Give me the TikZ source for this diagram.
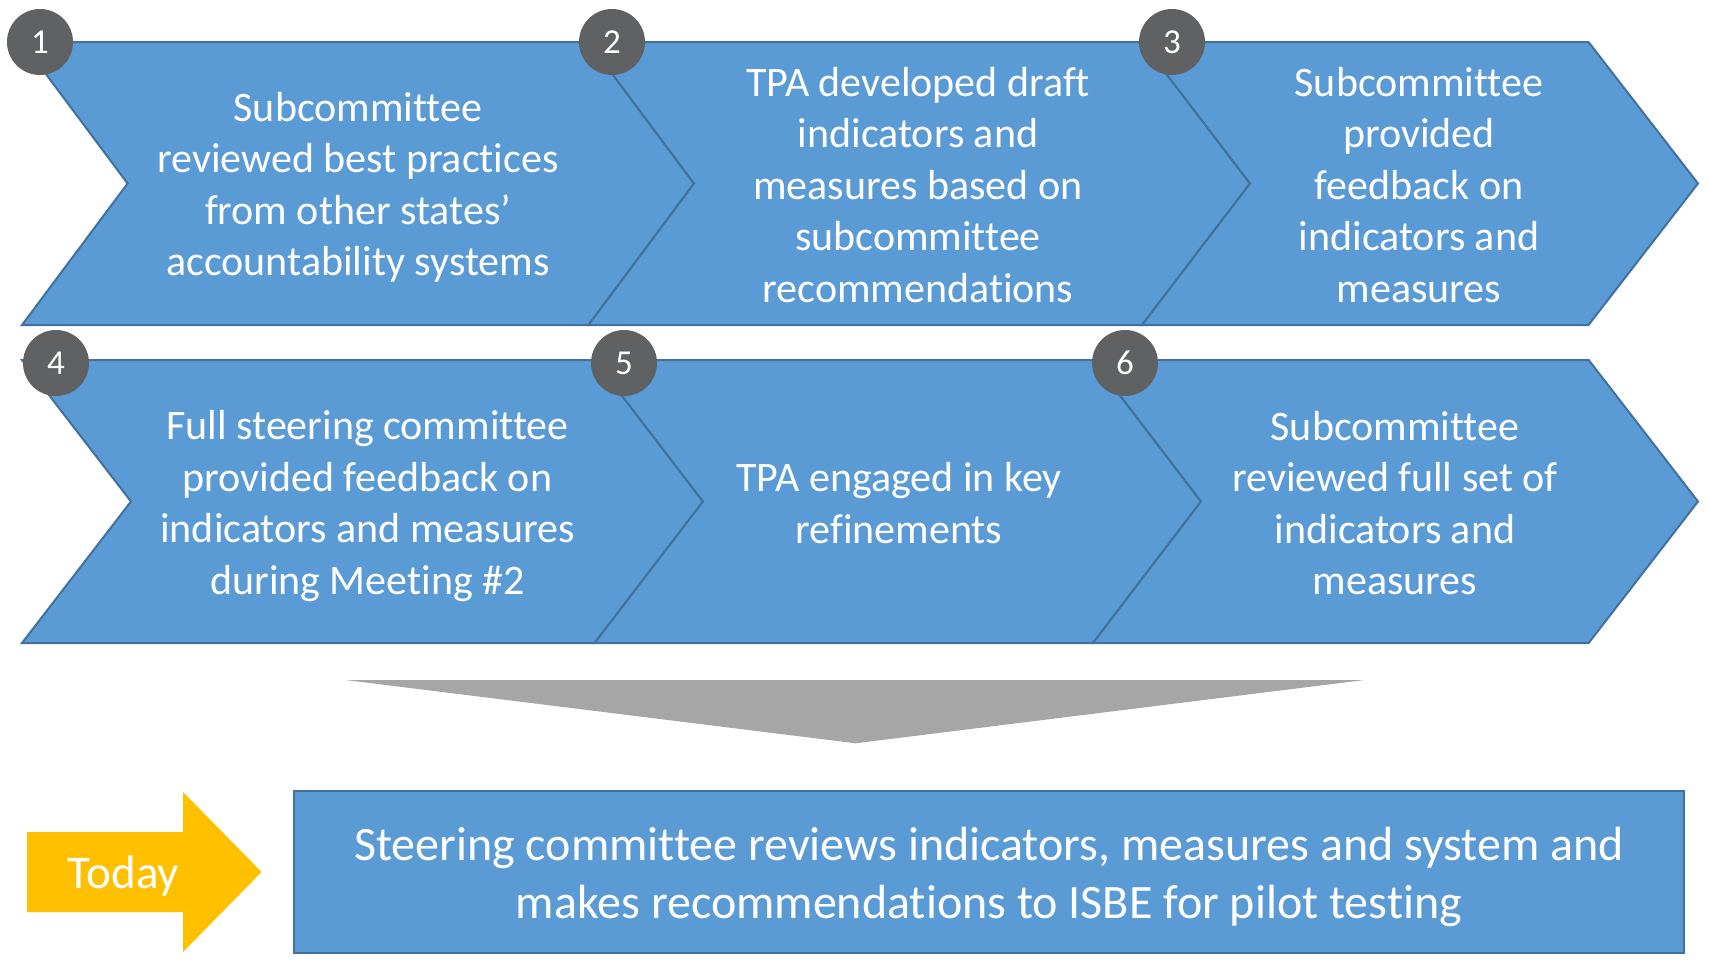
\documentclass[tikz,border=0pt]{standalone}
\usepackage{fontspec}
\setmainfont{Carlito}[Ligatures=NoCommon]
\definecolor{blu}{HTML}{5B9BD5}
\definecolor{bluedge}{HTML}{41719C}
\definecolor{dgray}{HTML}{606163}
\definecolor{trigray}{HTML}{A6A6A6}
\definecolor{yel}{HTML}{FFC000}
\tikzset{
  chev/.style={fill=blu, draw=bluedge, line width=2pt, line join=miter},
  steptext/.style={text=white, align=center, font=\fontsize{42}{51.5}\selectfont, inner sep=0pt},
  numcirc/.style={circle, fill=dgray, minimum size=66pt, inner sep=0pt, text=white, font=\fontsize{35}{40}\selectfont},
}
\newcommand{\chevshape}[6]{% xl, xn, xr, xp, top, bot
  \draw[chev] (#1,#5) -- (#3,#5) -- (#4,{(#5+#6)/2}) -- (#3,#6) -- (#1,#6) -- (#2,{(#5+#6)/2}) -- cycle;}
\begin{document}
\begin{tikzpicture}[x=1pt,y=-1pt]
\useasboundingbox (0,0) rectangle (1709,959);
% row 1
\chevshape{22}{127.6}{588.5}{694}{42}{325}
\chevshape{588.5}{694}{1142}{1250}{42}{325}
\chevshape{1142}{1250}{1588.5}{1698}{42}{325}
% row 2
\chevshape{22}{131}{594.6}{703}{360}{643}
\chevshape{594.6}{703}{1093}{1201}{360}{643}
\chevshape{1093}{1201}{1588.7}{1698}{360}{643}
% texts
\node[steptext] (t1) at (358,187.5) {Subcommittee\\reviewed best practices\\from other states’\\accountability systems};
\node[steptext] (t2) at (918,185) {TPA developed draft\\indicators and\\measures based on\\subcommittee\\recommendations};
\node[steptext] (t3) at (1419,185) {Subcommittee\\provided\\feedback on\\indicators and\\measures};
\node[steptext] (t4) at (367.5,506) {Full steering committee\\provided feedback on\\indicators and measures\\during Meeting \#2};
\node[steptext] (t5) at (899,503) {TPA engaged in key\\refinements};
\node[steptext] (t6) at (1395,503) {Subcommittee\\reviewed full set of\\indicators and\\measures};
% number circles
\node[numcirc] (n1) at (40,42) {1};
\node[numcirc] (n2) at (612,42) {2};
\node[numcirc] (n3) at (1172,42) {3};
\node[numcirc] (n4) at (56,363) {4};
\node[numcirc] (n5) at (624,363) {5};
\node[numcirc] (n6) at (1125,363) {6};
% gray funnel triangle
\fill[trigray] (345.5,680) -- (1364.6,680) -- (855.6,743.3) -- cycle;
% today arrow
\fill[yel] (27,832) -- (183,832) -- (183,792) -- (261.6,872) -- (183,952) -- (183,912) -- (27,912) -- cycle;
\node[text=white, font=\fontsize{47}{52}\selectfont, inner sep=0pt] (today) at (123.5,876) {Today};
% final box
\node[fill=blu, draw=bluedge, line width=2.5pt, minimum width=1390pt, minimum height=162pt, inner sep=0pt] (final) at (989,872) {};
\node[text=white, align=center, inner sep=0pt, font=\fontsize{48}{58}\selectfont] (finaltext) at (989,876.5)
  {Steering committee reviews indicators, measures and system and\\makes recommendations to ISBE for pilot testing};
\end{tikzpicture}
\end{document}
